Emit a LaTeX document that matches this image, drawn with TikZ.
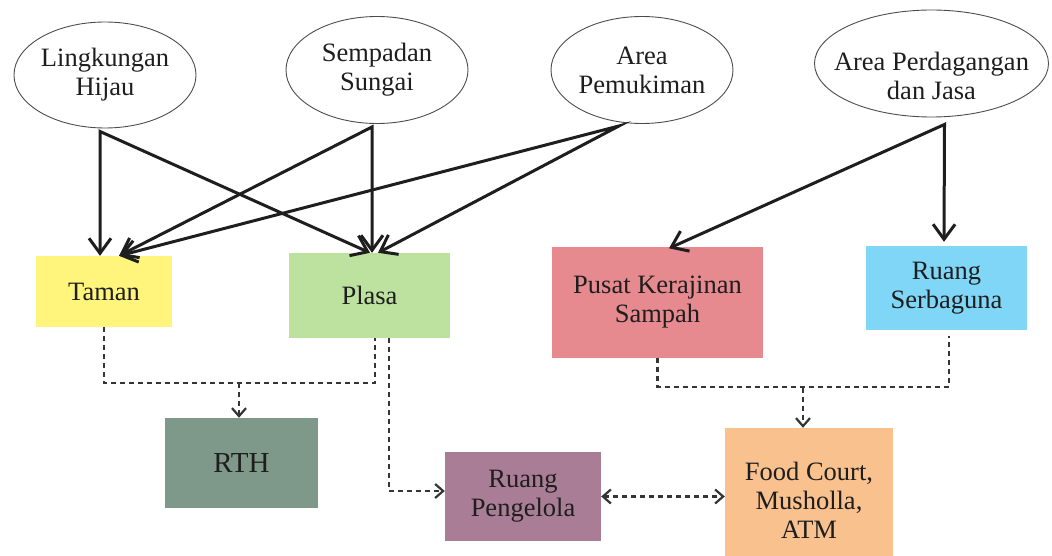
\documentclass[tikz,border=0pt]{standalone}
\usepackage{fontspec}
\setmainfont{Liberation Serif}
\usetikzlibrary{arrows.meta,shapes.geometric}
\definecolor{ink}{HTML}{1E1E1E}
\definecolor{cTaman}{HTML}{FFF57C}
\definecolor{cPlasa}{HTML}{BDE2A0}
\definecolor{cRTH}{HTML}{7E998A}
\definecolor{cPeng}{HTML}{A97D96}
\definecolor{cFood}{HTML}{F9C18E}
\definecolor{cPusat}{HTML}{E68A90}
\definecolor{cSerba}{HTML}{7FD6F7}
\begin{document}
\begin{tikzpicture}[x=1pt,y=-1pt,
  txt/.style={font=\fontsize{26.5}{29}\selectfont, text=ink, align=center, inner sep=0pt},
  oval/.style={ellipse, draw=black!70, line width=0.9pt, inner sep=0pt},
  boxn/.style={rectangle, draw=none, txt},
  solidarr/.style={line width=3pt, draw=ink, line join=miter,
    {Straight Barb[length=15pt,width=22pt]}-{Straight Barb[length=15pt,width=22pt]}},
  dotarr/.style={line width=2.2pt, draw=ink!90, dash pattern=on 5pt off 4pt},
  dothead/.style={-{Straight Barb[length=8pt,width=14pt]}},
  dotboth/.style={{Straight Barb[length=8pt,width=14pt]}-{Straight Barb[length=8pt,width=14pt]}}]
\path[use as bounding box] (0,0) rectangle (1052,556);
\clip (0,0) rectangle (1052,556);

% ellipses
\node[oval, minimum width=182pt, minimum height=106pt,
  label={[txt,name=e1t]center:Lingkungan\\Hijau}] (e1) at (105,75) {};
\node[oval, minimum width=182pt, minimum height=107pt,
  label={[txt,name=e2t]center:Sempadan\\Sungai}] (e2) at (377,70) {};
\node[oval, minimum width=182pt, minimum height=107pt,
  label={[txt,name=e3t]center:Area\\Pemukiman}] (e3) at (642,70) {};
\node[oval, minimum width=234pt, minimum height=107pt,
  label={[txt,name=e4t,yshift=-12pt]center:Area Perdagangan\\dan Jasa}] (e4) at (931.5,63.5) {};

% boxes
\node[boxn, fill=cTaman, minimum width=136pt, minimum height=71pt] (taman) at (104,291.5) {Taman};
\node[boxn, fill=cPlasa, minimum width=161pt, minimum height=85pt] (plasa) at (369.5,295.5) {Plasa};
\node[boxn, fill=cRTH, minimum width=153pt, minimum height=90pt, font=\fontsize{29}{32}\selectfont] (rth) at (241.5,463) {RTH};
\node[boxn, fill=cPeng, minimum width=156pt, minimum height=89pt] (peng) at (523,496.5) {Ruang\\Pengelola};
\node[boxn, fill=cFood, minimum width=168pt, minimum height=144pt] (food) at (809,500) {Food Court,\\Musholla,\\ATM};
\node[boxn, fill=cPusat, minimum width=211pt, minimum height=111pt] (pusat) at (657.5,302) {Pusat Kerajinan\\Sampah};
\node[boxn, fill=cSerba, minimum width=161pt, minimum height=84pt] (serba) at (946.5,288) {Ruang\\Serbaguna};

% start points of solid connectors
\coordinate (s1) at ([shift={(-5,3)}]e1.south);
\coordinate (s2) at ([shift={(-5,3)}]e2.south);
\coordinate (s3) at ([shift={(-23,2)}]e3.south);
\coordinate (s4) at ([shift={(13,7)}]e4.south);

% solid connectors
\draw[solidarr] ([xshift=-4pt]taman.north) -- (s1) -- ([xshift=0.5pt]plasa.north);
\draw[solidarr] ([xshift=15pt]taman.north) -- (s2) -- ([xshift=2.5pt]plasa.north);
\draw[solidarr] ([xshift=15pt]taman.north) -- (s3) -- ([xshift=8.5pt]plasa.north);
\draw[solidarr] ([shift={(11.5,2)}]pusat.north) -- (s4) -- ([shift={(-2.5,-4)}]serba.north);

% dashed connectors
\draw[dotarr] (taman.south) -- ++(0,56) -| ([xshift=5.5pt]plasa.south);
\draw[dotarr,dothead] ([shift={(-2.5,-35)}]rth.north) -- ([xshift=-2.5pt]rth.north);
\draw[dotarr,dothead] ([xshift=19.5pt]plasa.south) |- ([yshift=5.5pt]peng.west);
\draw[dotarr,dotboth] (peng.east) -- (peng.east -| food.west);
\draw[dotarr] (pusat.south) -- ++(0,29) -| ([shift={(2.5,6)}]serba.south);
\draw[dotarr,dothead] ([shift={(-6,-40)}]food.north) -- ([xshift=-6pt]food.north);
\end{tikzpicture}
\end{document}
